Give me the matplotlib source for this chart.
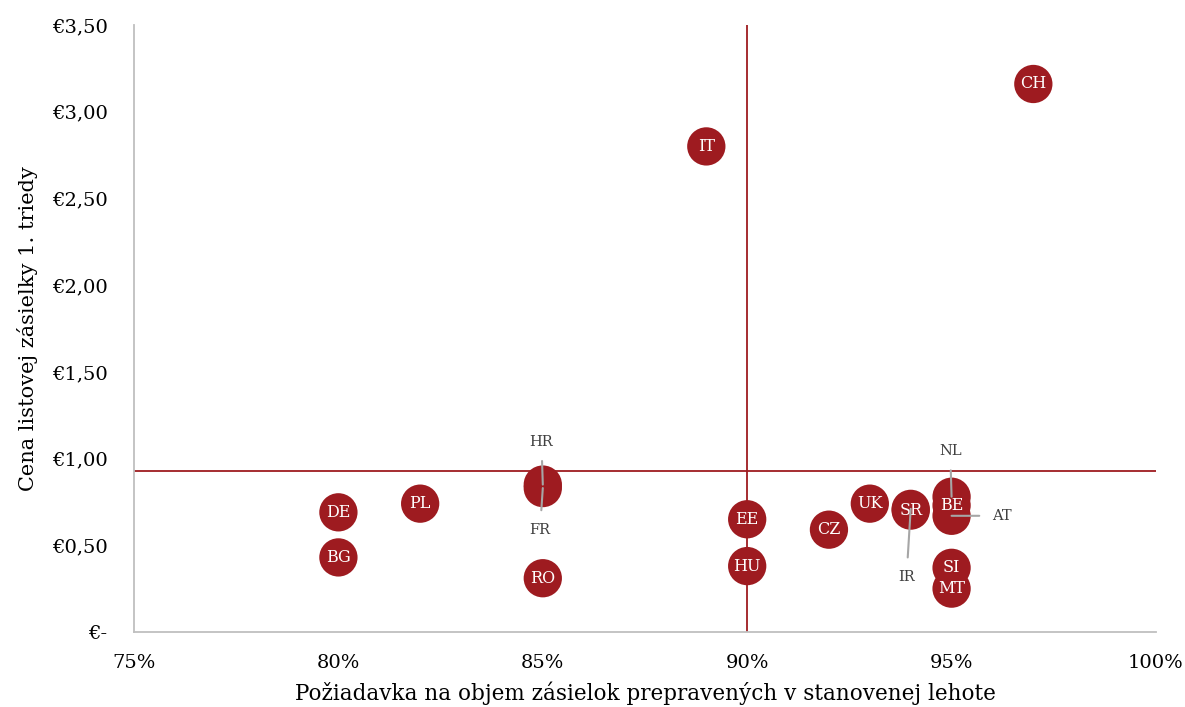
import matplotlib
matplotlib.use("Agg")
import matplotlib.pyplot as plt
from matplotlib.ticker import FuncFormatter

# country codes, delivery requirement (share) and first-class letter price (EUR)
countries = ["CH", "IT", "DE", "BG", "PL", "HR", "FR", "RO", "EE", "HU",
             "CZ", "UK", "SR", "IR", "NL", "BE", "AT", "SI", "MT"]
requirement = [0.97, 0.89, 0.80, 0.80, 0.82, 0.85, 0.85, 0.85, 0.90, 0.90,
               0.92, 0.93, 0.94, 0.94, 0.95, 0.95, 0.95, 0.95, 0.95]
price = [3.16, 2.80, 0.69, 0.43, 0.74, 0.85, 0.83, 0.31, 0.65, 0.38,
         0.59, 0.74, 0.70, 0.71, 0.78, 0.73, 0.67, 0.37, 0.25]

# labels drawn outside the bubble with a leader line (label offset in points)
outside = {"HR": (-1, 31), "FR": (-2, -30), "NL": (-1, 33), "AT": (36, 0), "IR": (-3, -49)}

avg_requirement = 0.90
avg_price = 0.93

red = "#9e1b20"
grey = "#404040"

plt.rcParams["font.family"] = ["DejaVu Serif"]

fig = plt.figure(figsize=(11.85, 7.07), dpi=100)
ax = fig.add_axes([0.1131, 0.1061, 0.8624, 0.8585])

ax.axvline(avg_requirement, color=red, lw=1.3, zorder=1)
ax.axhline(avg_price, color=red, lw=1.3, zorder=1)

ax.scatter(requirement, price, s=760, color=red, edgecolors="none", zorder=3)

for c, x, y in zip(countries, requirement, price):
    if c in outside:
        dx, dy = outside[c]
        ax.annotate(c, (x, y), xytext=(dx, dy), textcoords="offset points",
                    ha="center", va="center", fontsize=10.5, color=grey, zorder=5,
                    arrowprops=dict(arrowstyle="-", color="#a6a6a6", lw=1.5,
                                    shrinkA=7, shrinkB=0))
    else:
        ax.text(x, y, c, ha="center", va="center", fontsize=11.5,
                color="white", zorder=4)

ax.set_xlim(0.75, 1.00)
ax.set_ylim(0, 3.5)
ax.set_xticks([0.75, 0.80, 0.85, 0.90, 0.95, 1.00])
ax.set_yticks([0, 0.5, 1.0, 1.5, 2.0, 2.5, 3.0, 3.5])
ax.xaxis.set_major_formatter(FuncFormatter(lambda v, p: f"{round(v * 100)}%"))
ax.yaxis.set_major_formatter(
    FuncFormatter(lambda v, p: "€-" if v == 0 else "€" + f"{v:.2f}".replace(".", ",")))
ax.tick_params(length=0, labelsize=14)
ax.tick_params(axis="x", pad=16)
ax.tick_params(axis="y", pad=19)

for s in ["top", "right"]:
    ax.spines[s].set_visible(False)
for s in ["left", "bottom"]:
    ax.spines[s].set_color("#bfbfbf")
    ax.spines[s].set_linewidth(1.3)

ax.set_xlabel("Požiadavka na objem zásielok prepravených v stanovenej lehote",
              fontsize=15.5, labelpad=7)
ax.set_ylabel("Cena listovej zásielky 1. triedy", fontsize=15, labelpad=10)

fig.savefig("out.png", dpi=100)
